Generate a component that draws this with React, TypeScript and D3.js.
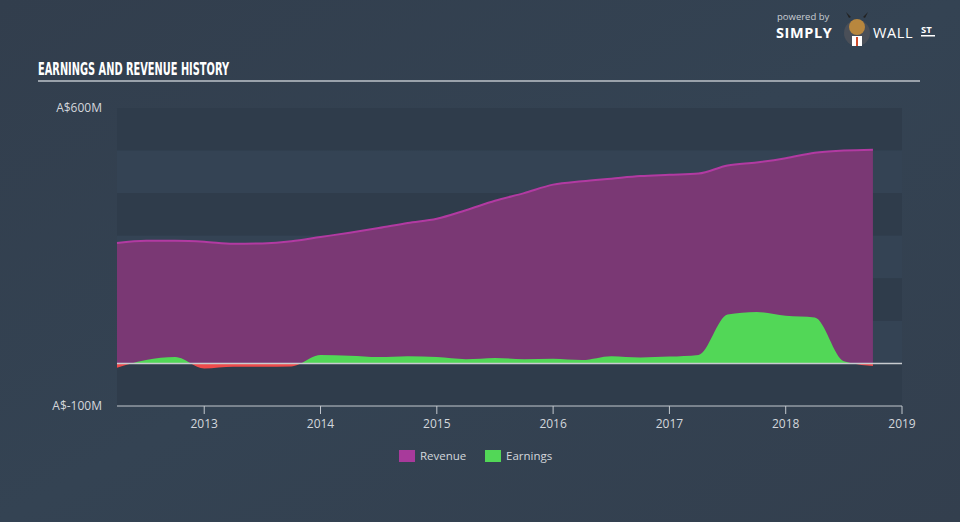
import React from "react";
import * as d3 from "d3";

const dates: number[] = [
  2012.25, 2012.5, 2012.75, 2013.0, 2013.25, 2013.5, 2013.75, 2014.0, 2014.25,
  2014.5, 2014.75, 2015.0, 2015.25, 2015.5, 2015.75, 2016.0, 2016.25, 2016.5,
  2016.75, 2017.0, 2017.25, 2017.5, 2017.75, 2018.0, 2018.25, 2018.5, 2018.75,
];
const revenue: number[] = [
  283, 288, 288, 286, 281, 282, 287, 297, 307, 318, 330, 340, 360, 382, 400,
  420, 428, 434, 440, 443, 446, 465, 472, 482, 495, 500, 502,
];
const earnings: number[] = [
  -10, 8, 15, -12, -8, -8, -7, 20, 18, 15, 17, 15, 10, 13, 10, 11, 8, 17, 14,
  16, 20, 115, 121, 112, 108, 5, -6,
];
const yearTicks: number[] = [2013, 2014, 2015, 2016, 2017, 2018, 2019];
const yLabels: { v: number; t: string }[] = [
  { v: 600, t: "A$600M" },
  { v: -100, t: "A$-100M" },
];
const bands: number[] = [600, 500, 400, 300, 200, 100, 0];

const W = 960;
const H = 522;
const left = 117;
const right = 902;
const top = 108;
const bottom = 406;

export default function App() {
  const x = d3.scaleLinear().domain([2012.25, 2019]).range([left, right]);
  const y = d3.scaleLinear().domain([-100, 600]).range([bottom, top]);
  const revData = dates.map((d, i) => ({ d, v: revenue[i] }));
  const earnData = dates.map((d, i) => ({ d, v: earnings[i] }));

  const revArea = d3
    .area<{ d: number; v: number }>()
    .x((p) => x(p.d))
    .y0(y(0))
    .y1((p) => y(p.v))
    .curve(d3.curveMonotoneX);
  const revLine = d3
    .line<{ d: number; v: number }>()
    .x((p) => x(p.d))
    .y((p) => y(p.v))
    .curve(d3.curveMonotoneX);
  const earnArea = d3
    .area<{ d: number; v: number }>()
    .x((p) => x(p.d))
    .y0(y(0))
    .y1((p) => y(p.v))
    .curve(d3.curveMonotoneX);

  const y0 = y(0);
  const font = "'Open Sans', 'DejaVu Sans', sans-serif";

  return (
    <svg
      width={W}
      height={H}
      style={{ position: "absolute", left: 0, top: 0, display: "block" }}
    >
      <defs>
        <linearGradient id="bg" x1="0" y1="0" x2="1" y2="1">
          <stop offset="0" stopColor="#323e4d" />
          <stop offset="0.5" stopColor="#344353" />
          <stop offset="1" stopColor="#333f4e" />
        </linearGradient>
        <clipPath id="above">
          <rect x={0} y={0} width={W} height={y0} />
        </clipPath>
        <clipPath id="below">
          <rect x={0} y={y0} width={W} height={H - y0} />
        </clipPath>
      </defs>
      <rect x={0} y={0} width={W} height={H} fill="url(#bg)" />

      {/* logo */}
      <text x={777} y={20} fill="#c9ced4" fontSize={9.5} fontFamily={font}>
        powered by
      </text>
      <text
        x={776}
        y={38}
        fill="#ffffff"
        fontSize={14.5}
        fontWeight={700}
        fontFamily={font}
        letterSpacing={0.6}
      >
        SIMPLY
      </text>
      <circle cx={857} cy={33} r={13} fill="#4a4f58" />
      <circle cx={857} cy={27} r={8} fill="#b8873e" />
      <path d="M849,18 L846,12 L851,17 Z M865,18 L868,12 L863,17 Z" fill="#222" />
      <rect x={852} y={36} width={10} height={10} fill="#ffffff" />
      <rect x={856} y={37} width={2} height={9} fill="#d04a2a" />
      <text
        x={873}
        y={38}
        fill="#ffffff"
        fontSize={14.5}
        fontWeight={400}
        fontFamily={font}
        letterSpacing={0.6}
      >
        WALL
      </text>
      <text x={921} y={33} fill="#ffffff" fontSize={9.5} fontWeight={700} fontFamily={font}>
        ST
      </text>
      <rect x={921} y={35} width={14} height={1.5} fill="#ffffff" />

      {/* title */}
      <text
        x={38}
        y={75}
        fill="#ffffff"
        fontSize={18}
        fontWeight={700}
        fontFamily="'Liberation Sans Narrow', 'DejaVu Sans Condensed', sans-serif"
        textLength={191}
        lengthAdjust="spacingAndGlyphs"
      >
        EARNINGS AND REVENUE HISTORY
      </text>
      <rect x={38} y={80} width={882} height={2} fill="#9aa2ab" />

      {/* bands */}
      {bands.map((b, i) => (
        <rect
          key={b}
          x={left}
          y={y(b)}
          width={right - left}
          height={y(b - 100) - y(b)}
          fill={i % 2 === 0 ? "#2f3c4b" : "#344354"}
        />
      ))}

      {/* revenue */}
      <path d={revArea(revData) || ""} fill="#7a3874" />
      <path d={revLine(revData) || ""} fill="none" stroke="#b23aa2" strokeWidth={2} />

      {/* earnings */}
      <path d={earnArea(earnData) || ""} fill="#52d757" clipPath="url(#above)" />
      <path d={earnArea(earnData) || ""} fill="#ee4b4b" clipPath="url(#below)" />

      {/* zero line */}
      <line x1={left} x2={right} y1={y0} y2={y0} stroke="#c8cbcf" strokeWidth={1.5} />

      {/* y labels */}
      {yLabels.map((l) => (
        <text
          key={l.t}
          x={102}
          y={y(l.v) + 4}
          textAnchor="end"
          fill="#d3d7dc"
          fontSize={12}
          fontFamily={font}
        >
          {l.t}
        </text>
      ))}

      {/* x axis */}
      <line x1={left} x2={right} y1={bottom} y2={bottom} stroke="#c3c8ce" strokeWidth={1} />
      {yearTicks.map((t) => (
        <g key={t}>
          <line x1={x(t)} x2={x(t)} y1={bottom} y2={bottom + 8} stroke="#c3c8ce" strokeWidth={1} />
          <text
            x={x(t)}
            y={bottom + 22}
            textAnchor="middle"
            fill="#d3d7dc"
            fontSize={12}
            fontFamily={font}
          >
            {t}
          </text>
        </g>
      ))}

      {/* legend */}
      <rect x={399} y={450} width={16} height={12} fill="#a83a9b" />
      <text x={420} y={460} fill="#d3d7dc" fontSize={11.5} fontFamily={font}>
        Revenue
      </text>
      <rect x={485} y={450} width={16} height={12} fill="#52d757" />
      <text x={506} y={460} fill="#d3d7dc" fontSize={11.5} fontFamily={font}>
        Earnings
      </text>
    </svg>
  );
}
